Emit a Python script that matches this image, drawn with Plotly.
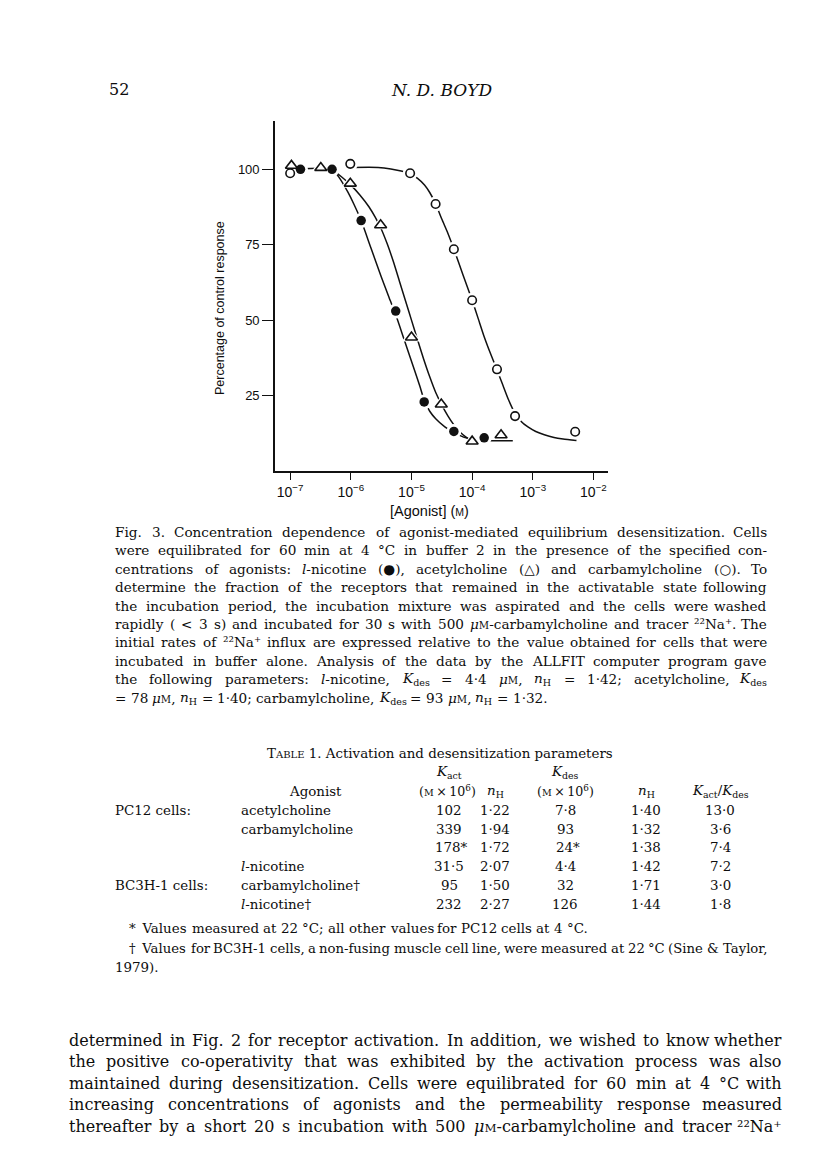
import re
import glob
import struct
import plotly.graph_objects as go

W, H = 816, 1160
SERIF = "DejaVu Serif"
SANS = "Liberation Sans, Arial, sans-serif"
INK = "#0d0d0d"

# ---------------- Fig. 3 data (concentration in M, % of control response) ----------------
nicotine_conc = [1.48e-7, 4.9e-7, 1.48e-6, 5.5e-6, 1.62e-5, 5.0e-5, 1.58e-4]
nicotine_resp = [100.0, 100.0, 83.0, 53.0, 22.9, 13.1, 11.0]
ach_conc = [1.05e-7, 3.2e-7, 9.8e-7, 3.1e-6, 1.0e-5, 3.1e-5, 1.0e-4, 3.0e-4]
ach_resp = [101.2, 100.5, 95.3, 81.5, 44.3, 22.1, 9.8, 11.9]
carb_conc = [1.0e-7, 9.8e-7, 9.5e-6, 2.5e-5, 5.0e-5, 1.0e-4, 2.57e-4, 5.1e-4, 5.0e-3]
carb_resp = [98.7, 101.8, 98.7, 88.5, 73.5, 56.6, 33.7, 18.2, 13.0]

# fitted (ALLFIT) curves as drawn in the figure
nicotine_fit_conc = [1.26e-7, 4.92e-7, 6.31e-7, 8.91e-7, 1.12e-6, 1.48e-6, 2.14e-6, 3.16e-6,
                     4.27e-6, 5.45e-6, 7.59e-6, 1.12e-5, 1.38e-5, 1.62e-5, 2.0e-5, 2.51e-5,
                     3.55e-5, 5.01e-5, 7.08e-5, 1.0e-4]
nicotine_fit_resp = [100, 100, 97.5, 92.5, 88.5, 83, 74, 64.5, 57.5, 52, 43.5, 33.5, 28, 23.5,
                     19.8, 17.3, 14.6, 12.7, 11.3, 10.3]
ach_fit_conc = [4.92e-7, 6.92e-7, 9.73e-7, 1.41e-6, 2.0e-6, 2.51e-6, 3.16e-6, 3.98e-6, 5.01e-6,
                6.31e-6, 7.94e-6, 1.0e-5, 1.26e-5, 1.58e-5, 2.0e-5, 2.51e-5, 3.12e-5, 3.98e-5,
                5.01e-5, 6.31e-5, 7.94e-5, 1.0e-4, 2.0e-4, 4.68e-4]
ach_fit_resp = [100, 97.6, 95.0, 91.5, 87.5, 84.2, 80.3, 75.3, 69.5, 63.0, 56.5, 50.0, 43.5,
                37.2, 31.2, 26.0, 22.1, 18.3, 15.3, 12.9, 11.2, 10.2, 10.0, 10.0]
carb_fit_conc = [1.0e-6, 2.82e-6, 4.57e-6, 6.76e-6, 9.55e-6, 1.26e-5, 1.64e-5, 2.0e-5, 2.51e-5,
                 3.16e-5, 3.98e-5, 5.01e-5, 7.08e-5, 1.0e-4, 1.26e-4, 1.58e-4, 2.0e-4, 2.57e-4,
                 3.16e-4, 3.98e-4, 5.13e-4, 6.31e-4, 8.32e-4, 1.12e-3, 1.55e-3, 2.24e-3,
                 3.16e-3, 5.25e-3]
carb_fit_resp = [100.6, 100.6, 100.1, 99.4, 98.5, 97.0, 94.8, 92.3, 88.5, 83.5, 78.8, 73.5,
                 65.0, 56.6, 50.5, 44.5, 39.0, 33.5, 28.8, 23.6, 19.0, 16.6, 14.6, 13.1, 12.0,
                 11.1, 10.6, 10.1]

x_tick_vals = [1e-7, 1e-6, 1e-5, 1e-4, 1e-3, 1e-2]
x_tick_text = ["10<sup>\u22127</sup>", "10<sup>\u22126</sup>", "10<sup>\u22125</sup>",
               "10<sup>\u22124</sup>", "10<sup>\u22123</sup>", "10<sup>\u22122</sup>"]
y_tick_vals = [25, 50, 75, 100]
y_tick_text = ["25", "50", "75", "100"]

# ---------------- Table 1 ----------------
table_groups = ["PC12 cells:", "", "", "", "BC3H-1 cells:", ""]
table_agonists = ["acetylcholine", "carbamylcholine", "", "<i>l</i>-nicotine",
                  "carbamylcholine\u2020", "<i>l</i>-nicotine\u2020"]
table_kact = ["102", "339", "178*", "31\u00b75", "95", "232"]
table_nh_act = ["1\u00b722", "1\u00b794", "1\u00b772", "2\u00b707", "1\u00b750", "2\u00b727"]
table_kdes = ["7\u00b78", "93", "24*", "4\u00b74", "32", "126"]
table_nh_des = ["1\u00b740", "1\u00b732", "1\u00b738", "1\u00b742", "1\u00b771", "1\u00b744"]
table_ratio = ["13\u00b70", "3\u00b76", "7\u00b74", "7\u00b72", "3\u00b70", "1\u00b78"]

caption_lines = [
    "Fig. 3. Concentration dependence of agonist-mediated equilibrium desensitization. Cells",
    "were equilibrated for 60 min at 4 \u00b0C in buffer 2 in the presence of the specified con-",
    "centrations of agonists: <i>l</i>-nicotine (\u25cf), acetylcholine (\u25b3) and carbamylcholine (\u25cb). To",
    "determine the fraction of the receptors that remained in the activatable state following",
    "the incubation period, the incubation mixture was aspirated and the cells were washed",
    "rapidly ( &lt; 3 s) and incubated for 30 s with 500 <i>\u03bc</i>@M-carbamylcholine and tracer \u00b2\u00b2Na\u207a. The",
    "initial rates of \u00b2\u00b2Na\u207a influx are expressed relative to the value obtained for cells that were",
    "incubated in buffer alone. Analysis of the data by the ALLFIT computer program gave",
    "the following parameters: <i>l</i>-nicotine, <i>K</i><sub>des</sub> = 4\u00b74 <i>\u03bc</i>@M, <i>n</i><sub>H</sub> = 1\u00b742; acetylcholine, <i>K</i><sub>des</sub>",
    "= 78 <i>\u03bc</i>@M, <i>n</i><sub>H</sub> = 1\u00b740; carbamylcholine, <i>K</i><sub>des</sub> = 93 <i>\u03bc</i>@M, <i>n</i><sub>H</sub> = 1\u00b732.",
]
body_lines = [
    "determined in Fig. 2 for receptor activation. In addition, we wished to know whether",
    "the positive co-operativity that was exhibited by the activation process was also",
    "maintained during desensitization. Cells were equilibrated for 60 min at 4 \u00b0C with",
    "increasing concentrations of agonists and the permeability response measured",
    "thereafter by a short 20 s incubation with 500 <i>\u03bc</i>@M-carbamylcholine and tracer \u00b2\u00b2Na\u207a",
]


# ---------------- text measuring (reads advance widths from the installed fonts) ----------------
def _load_widths(names):
    path = None
    for n in names:
        hits = glob.glob("/usr/share/fonts/**/" + n, recursive=True) + \
               glob.glob("/usr/local/share/fonts/**/" + n, recursive=True)
        if hits:
            path = hits[0]
            break
    if path is None:
        return None
    try:
        data = open(path, "rb").read()
        ntab = struct.unpack(">H", data[4:6])[0]
        tabs = {}
        for i in range(ntab):
            tag, _, off, ln = struct.unpack(">4sIII", data[12 + 16 * i:28 + 16 * i])
            tabs[tag.decode("latin1")] = off
        upem = struct.unpack(">H", data[tabs["head"] + 18:tabs["head"] + 20])[0]
        nhm = struct.unpack(">H", data[tabs["hhea"] + 34:tabs["hhea"] + 36])[0]
        ho = tabs["hmtx"]
        adv = [struct.unpack(">H", data[ho + 4 * i:ho + 4 * i + 2])[0] for i in range(nhm)]
        co = tabs["cmap"]
        nsub = struct.unpack(">H", data[co + 2:co + 4])[0]
        sub = None
        for i in range(nsub):
            pid, eid, so = struct.unpack(">HHI", data[co + 4 + 8 * i:co + 12 + 8 * i])
            if struct.unpack(">H", data[co + so:co + so + 2])[0] == 4 and pid in (0, 3):
                sub = co + so
        o = sub
        sx2 = struct.unpack(">H", data[o + 6:o + 8])[0]
        seg = sx2 // 2
        ends = struct.unpack(">%dH" % seg, data[o + 14:o + 14 + sx2])
        starts = struct.unpack(">%dH" % seg, data[o + 16 + sx2:o + 16 + 2 * sx2])
        deltas = struct.unpack(">%dh" % seg, data[o + 16 + 2 * sx2:o + 16 + 3 * sx2])
        rpos = o + 16 + 3 * sx2
        roffs = struct.unpack(">%dH" % seg, data[rpos:rpos + sx2])
    except Exception:
        return None
    cache = {}

    def width(ch):
        if ch in cache:
            return cache[ch]
        c = ord(ch)
        g = 0
        for i in range(seg):
            if c <= ends[i]:
                if c >= starts[i]:
                    if roffs[i] == 0:
                        g = (c + deltas[i]) & 0xFFFF
                    else:
                        a = rpos + 2 * i + roffs[i] + 2 * (c - starts[i])
                        gg = struct.unpack(">H", data[a:a + 2])[0]
                        g = (gg + deltas[i]) & 0xFFFF if gg else 0
                break
        w = None if g == 0 else (adv[g] if g < nhm else adv[-1]) / upem
        cache[ch] = w
        return w
    return width


_reg = _load_widths(["DejaVuSerif.ttf"])
_ital = _load_widths(["DejaVuSerif-Italic.ttf"]) or _reg
_sans = _load_widths(["DejaVuSans.ttf"])


def char_w(ch, italic):
    for f in ((_ital if italic else _reg), _reg, _sans):
        if f is not None:
            w = f(ch)
            if w is not None:
                return w
    return 0.55


def measure(s, size):
    s = s.replace("&lt;", "<").replace("&amp;", "&")
    total, italic, scales = 0.0, False, [1.0]
    for tok in re.split(r"(<[^>]+>)", s):
        if not tok:
            continue
        if tok.startswith("<") and tok.endswith(">") and len(tok) > 1:
            t = tok.lower()
            if t == "<i>":
                italic = True
            elif t == "</i>":
                italic = False
            elif t in ("<sub>", "<sup>"):
                scales.append(scales[-1] * 0.7)
            elif t.startswith("<span"):
                m = re.search(r"font-size:\s*([\d.]+)px", t)
                scales.append(float(m.group(1)) / size if m else scales[-1])
            elif t in ("</sub>", "</sup>", "</span>"):
                if len(scales) > 1:
                    scales.pop()
            continue
        for ch in tok:
            total += char_w(ch, italic) * size * scales[-1]
    return total


fig = go.Figure()

line_style = dict(color="#111", width=1.5)
for cx, cy in [(nicotine_fit_conc, nicotine_fit_resp), (ach_fit_conc, ach_fit_resp),
               (carb_fit_conc, carb_fit_resp)]:
    fig.add_trace(go.Scatter(x=cx, y=cy, mode="lines",
                             line=dict(shape="spline", smoothing=0.6, **line_style), hoverinfo="skip"))

# white halos so the curves break around the symbols
for cx, cy, sym, sz in [(carb_conc, carb_resp, "circle", 15), (ach_conc, ach_resp, "triangle-up", 17),
                        (nicotine_conc, nicotine_resp, "circle", 15)]:
    fig.add_trace(go.Scatter(x=cx, y=cy, mode="markers",
                             marker=dict(symbol=sym, size=sz, color="white", line=dict(width=0)),
                             hoverinfo="skip"))

fig.add_trace(go.Scatter(x=carb_conc, y=carb_resp, mode="markers", name="carbamylcholine",
                         marker=dict(symbol="circle", size=8.5, color="white", line=dict(color="#111", width=1.6))))
fig.add_trace(go.Scatter(x=ach_conc, y=ach_resp, mode="markers", name="acetylcholine",
                         marker=dict(symbol="triangle-up", size=10.5, color="white", line=dict(color="#111", width=1.6))))
fig.add_trace(go.Scatter(x=nicotine_conc, y=nicotine_resp, mode="markers", name="l-nicotine",
                         marker=dict(symbol="circle", size=9.5, color="#111", line=dict(width=0))))

fig.update_layout(
    width=W, height=H, margin=dict(l=0, r=0, t=0, b=0),
    paper_bgcolor="white", plot_bgcolor="white", showlegend=False,
    xaxis=dict(type="log", range=[-7.25, -1.76], domain=[267 / W, 600 / W],
               showline=True, linecolor="#111", linewidth=1.6, ticks="outside", ticklen=7,
               tickwidth=1.4, tickcolor="#111", tickvals=x_tick_vals, ticktext=x_tick_text,
               tickfont=dict(family=SANS, size=14, color=INK), showgrid=False, zeroline=False),
    yaxis=dict(range=[0, 116], domain=[1 - 463 / H, 1 - 113 / H],
               showline=True, linecolor="#111", linewidth=1.6, ticks="outside", ticklen=11,
               tickwidth=1.4, tickcolor="#111", tickvals=y_tick_vals, ticktext=y_tick_text,
               tickfont=dict(family=SANS, size=13, color=INK), showgrid=False, zeroline=False),
)


def sc(size):
    return "<span style='font-size:%.1fpx'>M</span>" % (size * 0.74)


def txt(s, x, y, size, anchor="left", family=SERIF, angle=0):
    s = s.replace("@M", sc(size))
    fig.add_annotation(text=s, x=x / W, y=1 - y / H, xref="paper", yref="paper",
                       xanchor=anchor, yanchor="middle", showarrow=False, borderpad=0,
                       textangle=angle, font=dict(family=family, size=size, color=INK))


def justify(s, x0, x1, y, size, last=False):
    words = s.split(" ")
    n = len(words)
    avail = x1 - x0

    def widths(sz):
        return [measure(w.replace("@M", sc(sz)), sz) for w in words], measure(" ", sz)

    ws, sp = widths(size)
    need = sum(ws) + (n - 1) * sp * 0.85
    if need > avail:
        size = size * avail / need
        ws, sp = widths(size)
    gap = sp if (last or n < 2) else (avail - sum(ws)) / (n - 1)
    x = x0
    for i, w in enumerate(words):
        if i == n - 1 and not last and n > 1:
            txt(w, x1, y, size, "right")
        else:
            txt(w, x, y, size, "left")
        x += ws[i] + gap


# page header
txt("52", 100, 82, 16)
txt("<i>N. D. BOYD</i>", 433, 82, 17, "center")

# axis titles
txt("Percentage of control response", 212, 300, 12.5, "center", SANS, -90)
txt("[Agonist] (<span style='font-size:10.5px'>M</span>)", 421, 503, 14.5, "center", SANS)

# caption
CAP_X0, CAP_X1, CAP_Y0, CAP_DY, CAP_FS = 106, 760, 524, 18.4, 13.6
for k, line in enumerate(caption_lines):
    justify(line, CAP_X0, CAP_X1, CAP_Y0 + k * CAP_DY, CAP_FS, last=(k == len(caption_lines) - 1))

# table
TFS = 13.4
txt("T<span style='font-size:10px'>ABLE</span> 1. Activation and desensitization parameters", 432, 745, TFS, "center")
col_x = [441, 487, 557, 638, 712]
MX = "(<span style='font-size:9.5px'>M</span>\u2009\u00d7\u200910<sup>6</sup>)"
txt("<i>K</i><sub>act</sub>", col_x[0], 764, TFS, "center")
txt("<i>K</i><sub>des</sub>", col_x[2], 764, TFS, "center")
hdr_y = 783
txt("Agonist", 307, hdr_y, TFS, "center")
txt(MX, col_x[0] - 2, hdr_y, 12.6, "center")
txt("<i>n</i><sub>H</sub>", col_x[1], hdr_y, TFS, "center")
txt(MX, col_x[2], hdr_y, 12.6, "center")
txt("<i>n</i><sub>H</sub>", col_x[3], hdr_y, TFS, "center")
txt("<i>K</i><sub>act</sub>/<i>K</i><sub>des</sub>", col_x[4], hdr_y, TFS, "center")
row_y = [802, 821, 839.5, 858, 877, 896]
for i, y in enumerate(row_y):
    if table_groups[i]:
        txt(table_groups[i], 106, y, TFS)
    if table_agonists[i]:
        txt(table_agonists[i], 232, y, TFS)
    for j, col in enumerate([table_kact, table_nh_act, table_kdes, table_nh_des, table_ratio]):
        v = col[i]
        dx = 3 if v.endswith("*") else 0
        txt(v, col_x[j] + dx, y, TFS, "center")

# table footnotes
justify("*\u2002Values measured at 22 \u00b0C; all other values for PC12 cells at 4 \u00b0C.", 120, 760, 920, TFS, last=True)
justify("\u2020\u2002Values for BC3H-1 cells, a non-fusing muscle cell line, were measured at 22 \u00b0C (Sine &amp; Taylor,",
        120, 760, 940, TFS)
txt("1979).", 106, 959, TFS)

# body text
for k, line in enumerate(body_lines):
    justify(line, 60, 775, 1032 + k * 21.5, 16.0)

fig.write_html("out.html")
